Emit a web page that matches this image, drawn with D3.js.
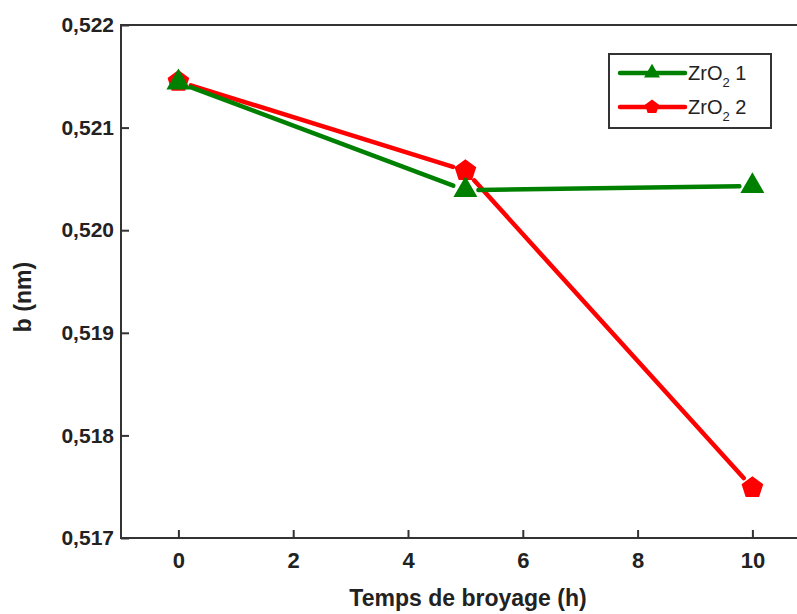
<!DOCTYPE html>
<html>
<head>
<meta charset="utf-8">
<script src="https://cdn.jsdelivr.net/npm/d3@7"></script>
<style>
  html, body { margin: 0; padding: 0; background: #fff; }
  svg { display: block; }
</style>
</head>
<body>
<svg id="chart" width="797" height="614"></svg>
<script>
// Milling time (h) and lattice parameter b (nm) for the two zirconia samples
const hours = [0, 5, 10];
const zro2_1 = [0.52144, 0.52039, 0.52043];
const zro2_2 = [0.52145, 0.52058, 0.51749];
const seriesNames = ["ZrO", "ZrO"];
const seriesSuffix = [" 1", " 2"];
const xTicks = [0, 2, 4, 6, 8, 10];
const yTicks = [0.517, 0.518, 0.519, 0.520, 0.521, 0.522];

const svg = d3.select("#chart");
const x = d3.scaleLinear().domain([-1, 11]).range([121, 809.8]);
const y = d3.scaleLinear().domain([0.517, 0.522]).range([538, 25]);

const GREEN = "#008000", RED = "#ff0000", AXIS = "#333";
const FONT = "'Liberation Sans', Arial, sans-serif";

// Pentagon symbol (d3 has none built in)
const pentagon = {
  draw(ctx, size) {
    const r = Math.sqrt(size / 2.378);
    for (let i = 0; i < 5; i++) {
      const a = -Math.PI / 2 + i * 2 * Math.PI / 5;
      const px = r * Math.cos(a), py = r * Math.sin(a);
      i ? ctx.lineTo(px, py) : ctx.moveTo(px, py);
    }
    ctx.closePath();
  }
};

// Axes: ticks pointing into the plot
const fmt = v => d3.format(".3f")(v).replace(".", ",");
const yAxis = d3.axisLeft(y).tickValues(yTicks).tickSize(-8).tickPadding(7).tickFormat(fmt);
const xAxis = d3.axisBottom(x).tickValues(xTicks).tickSize(-8).tickPadding(14).tickFormat(d3.format("d"));

const gy = svg.append("g").attr("transform", `translate(${x(-1)},0)`).call(yAxis);
gy.select(".domain").remove();
gy.selectAll("line").attr("stroke", AXIS).attr("stroke-width", 2);
gy.selectAll("text")
  .attr("fill", "#222")
  .style("font-family", FONT)
  .style("font-weight", "bold")
  .style("font-size", "21px");

const gx = svg.append("g").attr("transform", `translate(0,${y(0.517)})`).call(xAxis);
gx.select(".domain").remove();
gx.selectAll("line").attr("stroke", AXIS).attr("stroke-width", 2);
gx.selectAll("text")
  .attr("fill", "#222")
  .style("font-family", FONT)
  .style("font-weight", "bold")
  .style("font-size", "22px");

// Plot frame
svg.append("rect")
  .attr("x", x(-1)).attr("y", y(0.522))
  .attr("width", x(11) - x(-1)).attr("height", y(0.517) - y(0.522))
  .attr("fill", "none").attr("stroke", AXIS).attr("stroke-width", 2);

// Axis titles
svg.append("text")
  .attr("x", 468).attr("y", 606)
  .attr("text-anchor", "middle")
  .attr("fill", "#222")
  .style("font-family", FONT)
  .style("font-weight", "bold")
  .style("font-size", "23px")
  .text("Temps de broyage (h)");

svg.append("text")
  .attr("transform", "translate(31,297) rotate(-90)")
  .attr("text-anchor", "middle")
  .attr("fill", "#222")
  .style("font-family", FONT)
  .style("font-weight", "bold")
  .style("font-size", "23px")
  .text("b (nm)");

// Line segments with a small gap around each marker
function drawSeries(vals, color, symType, symSize) {
  const pts = hours.map((h, i) => [x(h), y(vals[i])]);
  const gap = 13;
  const g = svg.append("g");
  for (let i = 0; i < pts.length - 1; i++) {
    const [x0, y0] = pts[i], [x1, y1] = pts[i + 1];
    const len = Math.hypot(x1 - x0, y1 - y0);
    const ux = (x1 - x0) / len, uy = (y1 - y0) / len;
    g.append("line")
      .attr("x1", x0 + ux * gap).attr("y1", y0 + uy * gap)
      .attr("x2", x1 - ux * gap).attr("y2", y1 - uy * gap)
      .attr("stroke", color).attr("stroke-width", 4.5).attr("stroke-linecap", "round");
  }
  g.selectAll("path.mk").data(pts).join("path")
    .attr("class", "mk")
    .attr("transform", d => `translate(${d[0]},${d[1]})`)
    .attr("d", d3.symbol().type(symType).size(symSize))
    .attr("fill", color);
}

drawSeries(zro2_2, RED, pentagon, 310);
drawSeries(zro2_1, GREEN, d3.symbolTriangle, 250);

// Legend
const leg = svg.append("g");
leg.append("rect").attr("x", 609).attr("y", 54).attr("width", 162).attr("height", 74)
  .attr("fill", "#fff").attr("stroke", AXIS).attr("stroke-width", 2);
const legItems = [
  { color: GREEN, sym: d3.symbolTriangle, size: 110, yy: 73 },
  { color: RED, sym: pentagon, size: 130, yy: 107 }
];
legItems.forEach((it, i) => {
  leg.append("line").attr("x1", 620).attr("x2", 685).attr("y1", it.yy).attr("y2", it.yy)
    .attr("stroke", it.color).attr("stroke-width", 4.5).attr("stroke-linecap", "round");
  leg.append("path").attr("transform", `translate(652,${it.yy})`)
    .attr("d", d3.symbol().type(it.sym).size(it.size)).attr("fill", it.color);
  const t = leg.append("text").attr("x", 688).attr("y", it.yy + 7)
    .attr("fill", "#222")
    .style("font-family", FONT)
    .style("font-size", "20px");
  t.append("tspan").text(seriesNames[i]);
  t.append("tspan").attr("dy", 7).style("font-size", "13px").text("2");
  t.append("tspan").attr("dy", -7).text(seriesSuffix[i]);
});
</script>
</body>
</html>
